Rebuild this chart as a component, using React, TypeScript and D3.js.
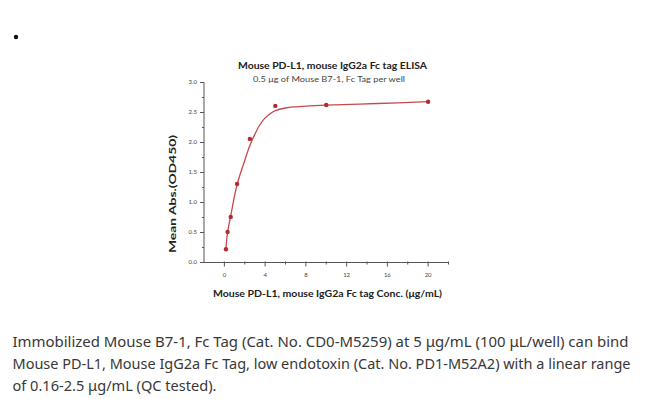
import React from "react";
import * as d3 from "d3";

const concX = [0.156, 0.313, 0.625, 1.25, 2.5, 5, 10, 20];
const meanAbs = [0.22, 0.51, 0.76, 1.31, 2.06, 2.61, 2.625, 2.68];

const fitX = [0.156, 0.313, 0.625, 1.25, 2, 2.5, 3, 3.5, 4, 4.5, 5, 6, 7, 8, 10, 15, 20];
const fitY = [0.23, 0.5, 0.78, 1.3, 1.7, 1.95, 2.14, 2.3, 2.41, 2.48, 2.53, 2.575, 2.595, 2.607, 2.623, 2.65, 2.68];

const xMajorTicks = [0, 4, 8, 12, 16, 20];
const xMinorTicks = [2, 6, 10, 14, 18, 22];
const yMajorTicks = [0, 0.5, 1, 1.5, 2, 2.5, 3];
const yMinorTicks = [0.25, 0.75, 1.25, 1.75, 2.25, 2.75];

const titleText = "Mouse PD-L1, mouse IgG2a Fc tag ELISA";
const subtitleText = "0.5 \u03bcg of Mouse B7-1, Fc Tag per well";
const xLabel = "Mouse PD-L1, mouse IgG2a Fc tag Conc. (\u03bcg/mL)";
const yLabel = "Mean Abs.(OD450)";
const captionLines = [
  "Immobilized Mouse B7-1, Fc Tag (Cat. No. CD0-M5259) at 5 \u03bcg/mL (100 \u03bcL/well) can bind",
  "Mouse PD-L1, Mouse IgG2a Fc Tag, low endotoxin (Cat. No. PD1-M52A2) with a linear range",
  "of 0.16-2.5 \u03bcg/mL (QC tested).",
];

export default function App() {
  const W = 650;
  const H = 399;
  const x = d3.scaleLinear().domain([-2, 22]).range([204, 448.5]);
  const y = d3.scaleLinear().domain([0, 3]).range([262.5, 82.5]);
  const axisColor = "#555";
  const red = "#c0353b";
  const line = d3
    .line<number>()
    .x((_, i) => x(fitX[i]))
    .y((d) => y(d))
    .curve(d3.curveCatmullRom.alpha(0.5));
  const font = "Lato, 'Noto Sans', sans-serif";
  const capFont = "'Noto Sans', 'Open Sans', sans-serif";
  const capLens = [616, 618, 204];
  const capY = [346.5, 369, 391];

  return (
    <svg
      width={W}
      height={H}
      style={{ position: "absolute", left: 0, top: 0, background: "#fff" }}
    >
      <rect width={W} height={H} fill="#fff" />
      <circle cx={16} cy={37} r={2.2} fill="#111" />

      {/* title */}
      <text
        x={332.5}
        y={69}
        textAnchor="middle"
        fontFamily={font}
        fontWeight={700}
        fontSize={10}
        fill="#222"
        textLength={189}
        lengthAdjust="spacingAndGlyphs"
      >
        {titleText}
      </text>
      <text
        x={329}
        y={81.5}
        textAnchor="middle"
        fontFamily={font}
        fontSize={7}
        fill="#444"
        textLength={152}
        lengthAdjust="spacingAndGlyphs"
      >
        {subtitleText}
      </text>

      {/* y axis */}
      <line x1={x(-2)} x2={x(-2)} y1={y(0)} y2={y(3)} stroke={axisColor} strokeWidth={1} />
      {yMajorTicks.map((t) => (
        <g key={"ym" + t}>
          <line x1={x(-2) - 4} x2={x(-2)} y1={y(t)} y2={y(t)} stroke={axisColor} strokeWidth={1} />
          <text
            x={x(-2) - 7}
            y={y(t)}
            dy="0.33em"
            textAnchor="end"
            fontFamily={font}
            fontSize={6}
            fill="#444"
          >
            {d3.format(".1f")(t)}
          </text>
        </g>
      ))}
      {yMinorTicks.map((t) => (
        <line key={"yn" + t} x1={x(-2) - 2} x2={x(-2)} y1={y(t)} y2={y(t)} stroke={axisColor} strokeWidth={1} />
      ))}

      {/* x axis */}
      <line x1={x(-2)} x2={x(22)} y1={y(0)} y2={y(0)} stroke={axisColor} strokeWidth={1} />
      {xMajorTicks.map((t) => (
        <g key={"xm" + t}>
          <line x1={x(t)} x2={x(t)} y1={y(0) - 1} y2={y(0) + 4} stroke={axisColor} strokeWidth={1} />
          <text
            x={x(t)}
            y={y(0) + 14}
            textAnchor="middle"
            fontFamily={font}
            fontSize={6}
            fill="#444"
          >
            {t}
          </text>
        </g>
      ))}
      {xMinorTicks.map((t) => (
        <line key={"xn" + t} x1={x(t)} x2={x(t)} y1={y(0) - 1} y2={y(0) + 2} stroke={axisColor} strokeWidth={1} />
      ))}

      {/* axis labels */}
      <text
        x={327.5}
        y={297}
        textAnchor="middle"
        fontFamily={font}
        fontWeight={700}
        fontSize={10}
        fill="#222"
        textLength={229}
        lengthAdjust="spacingAndGlyphs"
      >
        {xLabel}
      </text>
      <text
        transform={`translate(176,194) rotate(-90)`}
        textAnchor="middle"
        fontFamily={font}
        fontWeight={700}
        fontSize={10}
        fill="#222"
        textLength={118}
        lengthAdjust="spacingAndGlyphs"
      >
        {yLabel}
      </text>

      {/* fit curve */}
      <path d={line(fitY) || ""} fill="none" stroke={red} strokeWidth={1.3} strokeOpacity={0.9} />
      {meanAbs.map((v, i) => (
        <circle key={"p" + i} cx={x(concX[i])} cy={y(v)} r={2.2} fill="#b32a30" />
      ))}

      {/* caption */}
      {captionLines.map((s, i) => (
        <text
          key={"c" + i}
          x={12.5}
          y={capY[i]}
          fontFamily={capFont}
          fontSize={14.5}
          fill="#383838"
          textLength={capLens[i]}
          lengthAdjust="spacingAndGlyphs"
        >
          {s}
        </text>
      ))}
    </svg>
  );
}
